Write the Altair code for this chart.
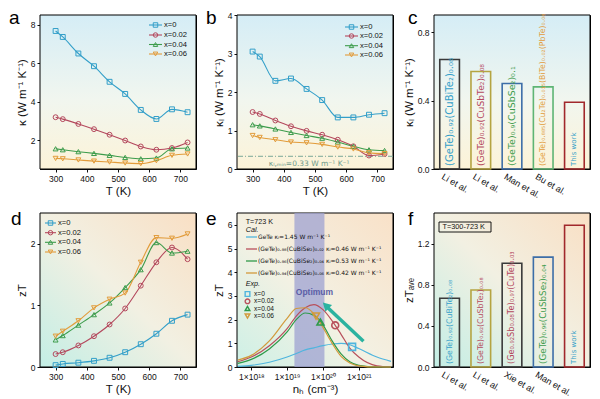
import altair as alt
import pandas as pd

FONT = "Liberation Sans"
SUBFONT = "DejaVu Sans"
W, H = 156, 154

# ---------------- shared ----------------
T_K = [300, 323, 373, 423, 473, 523, 573, 623, 673, 723]
series = ["x=0", "x=0.02", "x=0.04", "x=0.06"]
series_colors = ["#339fc9", "#b4485d", "#3d9c4c", "#e29c3b"]
series_shapes = ["square", "circle", "triangle-up", "triangle-down"]

# (a) kappa
kappa_x0 = [7.67, 7.36, 6.50, 5.84, 5.03, 4.40, 3.57, 3.10, 3.60, 3.45]
kappa_x002 = [3.19, 3.09, 2.84, 2.57, 2.28, 1.98, 1.67, 1.50, 1.59, 1.88]
kappa_x004 = [1.55, 1.50, 1.40, 1.31, 1.21, 1.10, 1.03, 1.07, 1.55, 1.59]
kappa_x006 = [1.05, 1.03, 0.97, 0.91, 0.86, 0.81, 0.78, 0.93, 1.21, 1.28]

# (b) kappa_l
kl_x0 = [3.05, 2.92, 2.29, 2.35, 2.08, 1.79, 1.34, 1.34, 1.41, 1.45]
kl_x002 = [1.48, 1.43, 1.26, 1.11, 0.99, 0.89, 0.76, 0.59, 0.35, 0.39]
kl_x004 = [1.15, 1.12, 1.04, 0.95, 0.87, 0.80, 0.70, 0.59, 0.50, 0.48]
kl_x006 = [0.87, 0.82, 0.76, 0.70, 0.68, 0.64, 0.57, 0.52, 0.42, 0.40]
kl_min = 0.33

# (c) comparison kappa_l
c_refs = ["Li et al.", "Li et al. ", "Man et al.", "Bu et al.", "This work"]
c_vals = [0.64, 0.57, 0.50, 0.48, 0.39]
c_texts = ["(GeTe)₀.₉₂(CuBiTe₂)₀.₀₈", "(GeTe)₀.₉₂(CuSbTe₂)₀.₀₈", "(GeTe)₀.₉(CuSbSe₂)₀.₁",
           "(GeTe)₀.₈₈₅(Cu₂Te)₀.₀₁₅(BiTe)₀.₀₂(PbTe)₀.₀₈", "This work"]
c_colors = ["#3a3a3a", "#b5a441", "#3d6ea8", "#5fb574", "#a1282c"]

# (d) zT
zT_x0 = [0.03, 0.05, 0.07, 0.10, 0.15, 0.24, 0.37, 0.54, 0.75, 0.85]
zT_x002 = [0.21, 0.24, 0.35, 0.50, 0.69, 0.95, 1.32, 1.70, 1.94, 1.75]
zT_x004 = [0.44, 0.51, 0.68, 0.85, 1.04, 1.29, 1.58, 2.02, 1.85, 1.88]
zT_x006 = [0.50, 0.58, 0.75, 0.96, 1.10, 1.20, 1.70, 2.10, 2.09, 2.16]

# (e) zT vs carrier concentration
n_grid = [4.2e17, 1e18, 3.2e18, 1e19, 1.8e19, 3.2e19, 5.6e19, 1e20, 1.8e20, 3.2e20, 5.6e20, 1e21, 3.2e21, 7.9e21]
cal_GeTe = [0.03, 0.07, 0.20, 0.42, 0.57, 0.72, 0.81, 0.90, 0.97, 1.00, 0.94, 0.78, 0.42, 0.24]
cal_x002 = [0.22, 0.42, 0.90, 1.62, 2.15, 2.50, 2.63, 2.42, 1.95, 1.38, 0.80, 0.42, 0.05, 0.00]
cal_x004 = [0.15, 0.32, 0.76, 1.48, 2.00, 2.28, 2.18, 1.78, 1.10, 0.55, 0.22, 0.07, 0.00, 0.00]
cal_x006 = [0.29, 0.49, 1.10, 2.05, 2.47, 2.50, 2.25, 1.67, 1.00, 0.45, 0.17, 0.05, 0.00, 0.00]
cal_labels = ["GeTe κₗ=1.45 W m⁻¹ K⁻¹",
              "(GeTe)₀.₉₈(CuBiSe₂)₀.₀₂ κₗ=0.46 W m⁻¹ K⁻¹",
              "(GeTe)₀.₉₆(CuBiSe₂)₀.₀₄ κₗ=0.53 W m⁻¹ K⁻¹",
              "(GeTe)₀.₉₄(CuBiSe₂)₀.₀₆ κₗ=0.42 W m⁻¹ K⁻¹"]
cal_colors = ["#4fb5de", "#b8505c", "#2f9a4a", "#d29a3c"]
exp_n = [6.5e20, 2.2e20, 8.5e19, 6.4e19]
exp_zT = [0.85, 1.76, 1.90, 2.15]
optimum = [1.6e19, 1.1e20]

# (f) comparison zT_ave
f_refs = ["Li et al.", "Li et al. ", "Xie et al.", "Man et al.", "This work"]
f_vals = [0.67, 0.75, 1.01, 1.07, 1.38]
f_texts = ["(GeTe)₀.₉₂(CuBiTe₂)₀.₀₈", "(GeTe)₀.₉₂(CuSbTe₂)₀.₀₈", "(Ge₀.₉₂Sb₀.₀₈Te)₀.₉₇(CuTe)₀.₀₃",
           "(GeTe)₀.₉₆(CuSbSe₂)₀.₀₄", "This work"]
f_colors = ["#222222", "#b5a441", "#3d7fb0", "#a88fd2", "#a1282c"]

ONE = pd.DataFrame({"k": [0]})

VERT = [(0, "#d5edf6"), (0.55, "#f1f6ef"), (1, "#fcf3d8")]
DIAG = [(0, "#c3eee5"), (0.5, "#f2f0e2"), (1, "#f9dfc4")]


def background(stops, x1, y1, x2, y2):
    grad = alt.LinearGradient(gradient="linear", x1=x1, y1=y1, x2=x2, y2=y2,
                              stops=[alt.GradientStop(offset=o, color=c) for o, c in stops])
    return alt.Chart(ONE).mark_rect(fill=grad, stroke="black", strokeWidth=1).encode(
        x=alt.value(0), x2=alt.value("width"), y=alt.value(0), y2=alt.value("height"))


def letter(ch, dx, by):
    return alt.Chart(ONE).mark_text(text=ch, fontSize=19, align="left", baseline="alphabetic",
                                    color="black").encode(x=alt.value(dx), y=alt.value(by))


def label(txt, px, py, fs=7.5, color="#111", style="normal", weight="normal", font=FONT):
    return alt.Chart(ONE).mark_text(text=txt, align="left", baseline="middle", fontSize=fs, color=color,
                                    fontStyle=style, fontWeight=weight, font=font).encode(
        x=alt.value(px), y=alt.value(py))


def legend_rows(x0, x1, xt, ys, fs=7.6):
    out = []
    for name, c, s, yy in zip(series, series_colors, series_shapes, ys):
        out.append(alt.Chart(ONE).mark_rule(color=c, strokeWidth=1.1).encode(
            x=alt.value(x0), x2=alt.value(x1), y=alt.value(yy)))
        out.append(alt.Chart(ONE).mark_point(shape=s, color=c, filled=False, size=20, strokeWidth=1,
                                             opacity=1).encode(x=alt.value((x0 + x1) / 2), y=alt.value(yy)))
        out.append(label(name, xt, yy, fs))
    return out


def line_panel(columns, ydom, yticks, ytitle, bg, ch, dx, legend, extra=None):
    df = pd.DataFrame({"T": T_K * len(series),
                       "v": [v for col in columns for v in col],
                       "s": [s for s in series for _ in T_K]})
    x = alt.X("T:Q", scale=alt.Scale(domain=[250, 750], nice=False, zero=False),
              axis=alt.Axis(values=[300, 400, 500, 600, 700], title="T (K)"))
    y = alt.Y("v:Q", scale=alt.Scale(domain=ydom, nice=False, zero=False),
              axis=alt.Axis(values=yticks, title=ytitle))
    col = alt.Color("s:N", scale=alt.Scale(domain=series, range=series_colors), legend=None)
    shp = alt.Shape("s:N", scale=alt.Scale(domain=series, range=series_shapes), legend=None)
    layers = [bg]
    if extra:
        layers += extra(x, y)
    layers += [alt.Chart(df).mark_line(interpolate="monotone", strokeWidth=1.1).encode(x=x, y=y, color=col),
               alt.Chart(df).mark_point(filled=False, size=24, strokeWidth=1, opacity=1).encode(
                   x=x, y=y, color=col, shape=shp)]
    layers += legend
    layers.append(letter(ch, dx, 9 if ch in "abc" else 12))
    return alt.layer(*layers).properties(width=W, height=H)


def b_extra(x, y):
    rule = alt.Chart(pd.DataFrame({"v": [kl_min]})).mark_rule(
        color="#79a897", strokeWidth=1, strokeDash=[5, 2, 1, 2]).encode(y=y)
    t = alt.Chart(pd.DataFrame({"T": [352], "v": [0.13]})).mark_text(
        text="κₗ,ₘᵢₙ=0.33 W m⁻¹ K⁻¹", align="left", baseline="middle", fontSize=7.5,
        color="#6e9a8a", font=SUBFONT).encode(x=x, y=y)
    return [rule, t]


def bar_panel(refs, vals, texts, cols, ydom, yticks, ytitle, bg, ch, dx, text_sizes, extra=None):
    df = pd.DataFrame({"r": refs, "v": vals, "t": texts})
    x = alt.X("r:N", sort=refs, scale=alt.Scale(paddingInner=0.37, paddingOuter=0.185),
              axis=alt.Axis(title=None, labelAngle=30, labelAlign="left", labelBaseline="top", ticks=False,
                            labelOverlap=False, labelFontSize=9, labelPadding=3, labelOffset=-5,
                            labelExpr="datum.label == 'This work' ? '' : datum.label"))
    y = alt.Y("v:Q", scale=alt.Scale(domain=ydom, nice=False),
              axis=alt.Axis(values=yticks, format=".1f", title=ytitle))
    col = alt.Color("r:N", scale=alt.Scale(domain=refs, range=cols), legend=None)
    bars = alt.Chart(df).mark_bar(fillOpacity=0, strokeWidth=1.6).encode(
        x=x, y=y, stroke=alt.Stroke("r:N", scale=alt.Scale(domain=refs, range=cols), legend=None))
    layers = [bg, bars]
    for i, size in enumerate(text_sizes):
        layers.append(alt.Chart(df.iloc[[i]]).mark_text(angle=270, align="left", baseline="middle",
                                                         fontSize=size, dx=3, font=SUBFONT).encode(
            x=x, y=alt.datum(0), text="t:N", color=col))
    if extra:
        layers += extra
    layers.append(letter(ch, dx, 9 if ch in "abc" else 12))
    return alt.layer(*layers).properties(width=W, height=H)


# ---------------- panels ----------------
pa = line_panel([kappa_x0, kappa_x002, kappa_x004, kappa_x006], [0.5, 8.5], [2, 4, 6, 8],
                "κ (W m⁻¹ K⁻¹)", background(VERT, 0, 0, 0, 1), "a", -31,
                legend_rows(109, 122, 124, [10, 20, 29.5, 39]))

pb = line_panel([kl_x0, kl_x002, kl_x004, kl_x006], [0, 4], [0, 1, 2, 3, 4],
                "κₗ (W m⁻¹ K⁻¹)", background(VERT, 0, 0, 0, 1), "b", -31,
                legend_rows(108, 121, 123, [12, 21, 30.7, 40]), b_extra)

pc = bar_panel(c_refs, c_vals, c_texts, c_colors, [0, 0.9], [0, 0.2, 0.4, 0.6, 0.8],
               "κₗ (W m⁻¹ K⁻¹)", background(VERT, 0, 0, 0, 1), "c", -26,
               [10.0, 9.2, 9.5, 7.8, 7.0])

pdd = line_panel([zT_x0, zT_x002, zT_x004, zT_x006], [0, 2.5], [0, 1, 2],
                 "zT", background(DIAG, 0, 1, 1, 0), "d", -29,
                 legend_rows(5, 16, 18, [10, 19.7, 29.3, 39]))

# panel e
xe = alt.X("n:Q", scale=alt.Scale(type="log", domain=[4e17, 9e21], nice=False),
           axis=alt.Axis(values=[1e18, 1e19, 1e20, 1e21], title="nₕ (cm⁻³)",
                         labelExpr="'1×10' + (round(log(datum.value)/LN10) == 18 ? '¹⁸' : "
                                   "round(log(datum.value)/LN10) == 19 ? '¹⁹' : "
                                   "round(log(datum.value)/LN10) == 20 ? '²⁰' : '²¹')"))
ye = alt.Y("z:Q", scale=alt.Scale(domain=[0, 6.5], nice=False),
           axis=alt.Axis(values=[0, 1, 2, 3, 4, 5, 6], title="zT"))
e_layers = [background([(0, "#cdf0e6"), (0.45, "#f3f1e3"), (1, "#f9e1c8")], 0, 1, 1, 0)]
e_layers.append(alt.Chart(pd.DataFrame({"n": [optimum[0]], "n2": [optimum[1]]})).mark_rect(
    color="#9da1d1", opacity=0.75).encode(x=xe, x2="n2:Q", y=alt.value(0), y2=alt.value("height")))
for vals, c in zip([cal_GeTe, cal_x002, cal_x004, cal_x006], cal_colors):
    e_layers.append(alt.Chart(pd.DataFrame({"n": n_grid, "z": vals})).mark_line(
        interpolate="monotone", strokeWidth=1.2, color=c).encode(x=xe, y=ye))
for nn, zz, c, s in zip(exp_n, exp_zT, cal_colors, series_shapes):
    e_layers.append(alt.Chart(pd.DataFrame({"n": [nn], "z": [zz]})).mark_point(
        shape=s, color=c, filled=False, size=48, strokeWidth=1.6, opacity=1).encode(x=xe, y=ye))
# arrow
e_layers.append(alt.Chart(pd.DataFrame({"n": [1.35e21], "z": [1.09], "n2": [1.37e20], "z2": [2.5]})).mark_rule(
    color="#2bb3a0", strokeWidth=3.5).encode(x=xe, y=ye, x2="n2:Q", y2="z2:Q"))
e_layers.append(alt.Chart(pd.DataFrame({"n": [1.2e20], "z": [2.6]})).mark_point(
    shape="triangle-up", filled=True, color="#2bb3a0", size=90, angle=315, opacity=1).encode(x=xe, y=ye))
e_layers.append(alt.Chart(pd.DataFrame({"n": [1.75e19], "z": [3.15]})).mark_text(
    text="Optimum", align="left", baseline="middle", fontSize=8.5, fontWeight="bold",
    color="#5b5ea6").encode(x=xe, y=ye))
# legend of panel e
e_layers.append(label("T=723 K", 8.7, 8.5, 7.2))
e_layers.append(label("Cal.", 8.7, 17, 7.2, style="italic"))
for txt, c, yy in zip(cal_labels, cal_colors, [24, 36, 48, 60]):
    e_layers.append(alt.Chart(ONE).mark_rule(color=c, strokeWidth=1.3).encode(
        x=alt.value(9), x2=alt.value(20), y=alt.value(yy)))
    e_layers.append(label(txt, 21, yy, 6.0, font=SUBFONT))
e_layers.append(label("Exp.", 8.7, 71, 7.2, style="italic"))
for name, c, s, yy in zip(series, cal_colors, series_shapes, [81, 88.3, 95.5, 103]):
    e_layers.append(alt.Chart(ONE).mark_point(shape=s, color=c, filled=False, size=22, strokeWidth=1.4,
                                              opacity=1).encode(x=alt.value(10.5), y=alt.value(yy)))
    e_layers.append(label(name, 17, yy, 6.6))
e_layers.append(letter("e", -31, 12))
pe = alt.layer(*e_layers).properties(width=W, height=H)

f_extra = [
    alt.Chart(ONE).mark_rect(fillOpacity=0, stroke="black", strokeWidth=0.9).encode(
        x=alt.value(5), x2=alt.value(57), y=alt.value(9), y2=alt.value(19)),
    label("T=300-723 K", 8.5, 14, 7.3),
]
pf = bar_panel(f_refs, f_vals, f_texts, f_colors, [0, 1.5], [0, 0.4, 0.8, 1.2],
               "zTₐᵥₑ", background(DIAG, 0, 1, 1, 0), "f", -26,
               [7.8, 7.8, 8.2, 8.8, 7.0], f_extra)

chart = alt.concat(pa, pb, pc, pdd, pe, pf, columns=3, spacing={"row": 44, "column": 41},
                   bounds="flush").properties(padding=0)
chart = chart.configure_view(stroke="black", strokeWidth=1).configure_axis(
    labelFont=FONT, titleFont=FONT, labelFontSize=8.5, titleFontSize=11.5, titleFontWeight="normal",
    labelColor="#111", titleColor="#111", tickColor="#111", domainColor="#111", tickSize=3,
    grid=False, labelPadding=2, titlePadding=3
).configure_text(font=FONT)

chart.save("out.html", embed_options={"renderer": "svg", "actions": False})
